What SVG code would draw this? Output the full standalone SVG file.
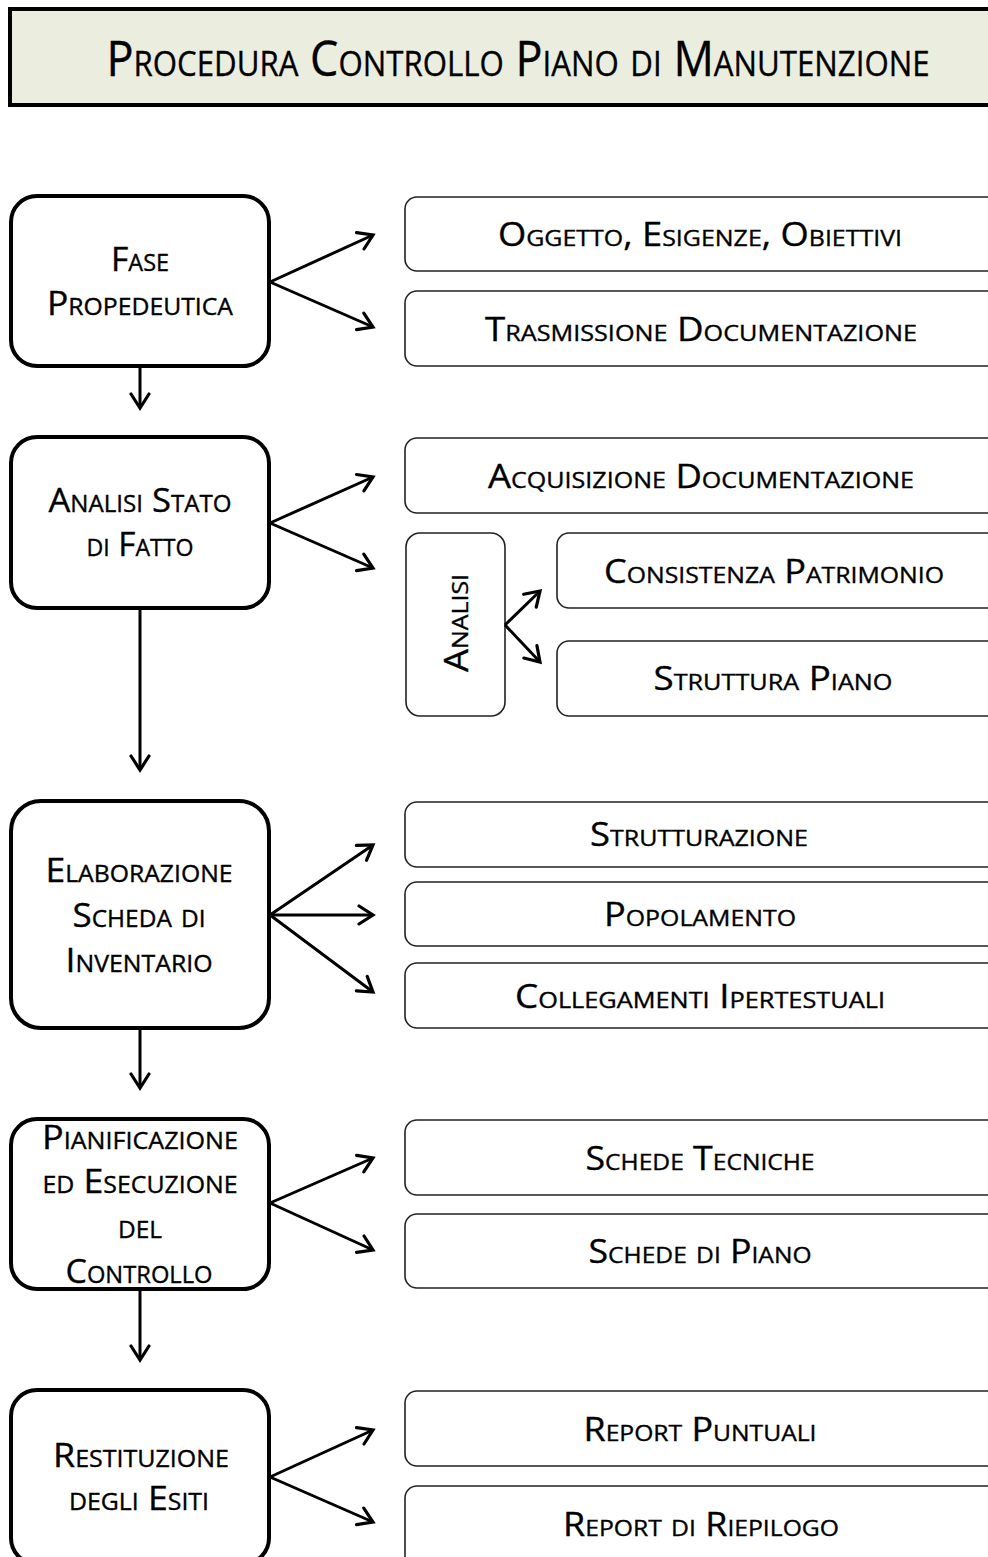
<svg xmlns="http://www.w3.org/2000/svg" width="988" height="1557" viewBox="0 0 988 1557">
  <style>
    text { font-family: "Open Sans", "Liberation Sans", sans-serif; font-variant: small-caps; fill: #000; stroke: #000; stroke-width: 0.35; text-anchor: middle; }
    .t-title { font-size: 49px; }
    .t-main { font-size: 33px; }
    .t-sub { font-size: 32px; }
    .phase { fill: #fff; stroke: #000; stroke-width: 4; }
    .task { fill: #fff; stroke: #222; stroke-width: 1.6; }
    .conn line { stroke: #000; stroke-width: 3; marker-end: url(#arrow); }
  </style>
  <defs>
    <marker id="arrow" viewBox="0 0 22 22" refX="18" refY="11" markerWidth="22" markerHeight="22" markerUnits="userSpaceOnUse" orient="auto">
      <path d="M4,2 L18,11 L4,20" fill="none" stroke="#000" stroke-width="3.2" stroke-linecap="round"/>
    </marker>
  </defs>

  <rect width="988" height="1557" fill="#fff"/>

  <!-- header -->
  <g id="title">
    <rect x="10" y="9" width="982" height="96" fill="#EBEEDF" stroke="#000" stroke-width="4"/>
    <text class="t-title" x="518" y="76" textLength="823" lengthAdjust="spacingAndGlyphs">Procedura Controllo Piano di Manutenzione</text>
  </g>

  <!-- phase 1 -->
  <g id="fase-propedeutica">
    <rect class="phase" x="11" y="196" width="258" height="170" rx="26"/>
    <text class="t-main" x="140" y="271" textLength="58" lengthAdjust="spacingAndGlyphs">Fase</text>
    <text class="t-main" x="140" y="315" textLength="186" lengthAdjust="spacingAndGlyphs">Propedeutica</text>
  </g>
  <g id="oggetto">
    <rect class="task" x="405" y="197" width="620" height="74" rx="12"/>
    <text class="t-sub" x="700" y="246" textLength="404" lengthAdjust="spacingAndGlyphs">Oggetto, Esigenze, Obiettivi</text>
  </g>
  <g id="trasmissione">
    <rect class="task" x="405" y="291" width="620" height="75" rx="12"/>
    <text class="t-sub" x="701" y="341" textLength="432" lengthAdjust="spacingAndGlyphs">Trasmissione Documentazione</text>
  </g>

  <!-- phase 2 -->
  <g id="analisi-stato">
    <rect class="phase" x="11" y="437" width="258" height="171" rx="26"/>
    <text class="t-main" x="140" y="512" textLength="183" lengthAdjust="spacingAndGlyphs">Analisi Stato</text>
    <text class="t-main" x="140" y="556" textLength="107" lengthAdjust="spacingAndGlyphs">di Fatto</text>
  </g>
  <g id="acquisizione">
    <rect class="task" x="405" y="438" width="620" height="75" rx="12"/>
    <text class="t-sub" x="701" y="488" textLength="426" lengthAdjust="spacingAndGlyphs">Acquisizione Documentazione</text>
  </g>
  <g id="analisi">
    <rect class="task" x="406" y="533" width="99" height="183" rx="14"/>
    <text class="t-sub" transform="translate(468,623) rotate(-90)" x="0" y="0" textLength="98" lengthAdjust="spacingAndGlyphs">Analisi</text>
  </g>
  <g id="consistenza">
    <rect class="task" x="557" y="533" width="470" height="75" rx="12"/>
    <text class="t-sub" x="774" y="583" textLength="340" lengthAdjust="spacingAndGlyphs">Consistenza Patrimonio</text>
  </g>
  <g id="struttura-piano">
    <rect class="task" x="557" y="641" width="470" height="75" rx="12"/>
    <text class="t-sub" x="773" y="690" textLength="239" lengthAdjust="spacingAndGlyphs">Struttura Piano</text>
  </g>

  <!-- phase 3 -->
  <g id="elaborazione">
    <rect class="phase" x="11" y="801" width="258" height="227" rx="30"/>
    <text class="t-main" x="139" y="882" textLength="187" lengthAdjust="spacingAndGlyphs">Elaborazione</text>
    <text class="t-main" x="139" y="927" textLength="133" lengthAdjust="spacingAndGlyphs">Scheda di</text>
    <text class="t-main" x="139" y="972" textLength="147" lengthAdjust="spacingAndGlyphs">Inventario</text>
  </g>
  <g id="strutturazione">
    <rect class="task" x="405" y="802" width="620" height="65" rx="12"/>
    <text class="t-sub" x="699" y="846" textLength="218" lengthAdjust="spacingAndGlyphs">Strutturazione</text>
  </g>
  <g id="popolamento">
    <rect class="task" x="405" y="882" width="620" height="64" rx="12"/>
    <text class="t-sub" x="700" y="926" textLength="192" lengthAdjust="spacingAndGlyphs">Popolamento</text>
  </g>
  <g id="collegamenti">
    <rect class="task" x="405" y="963" width="620" height="65" rx="12"/>
    <text class="t-sub" x="700" y="1008" textLength="370" lengthAdjust="spacingAndGlyphs">Collegamenti Ipertestuali</text>
  </g>

  <!-- phase 4 -->
  <g id="pianificazione">
    <rect class="phase" x="11" y="1119" width="258" height="170" rx="26"/>
    <text class="t-main" x="140" y="1149" textLength="196" lengthAdjust="spacingAndGlyphs">Pianificazione</text>
    <text class="t-main" x="140" y="1193" textLength="195" lengthAdjust="spacingAndGlyphs">ed Esecuzione</text>
    <text class="t-main" x="140" y="1238" textLength="44" lengthAdjust="spacingAndGlyphs">del</text>
    <text class="t-main" x="139" y="1283" textLength="147" lengthAdjust="spacingAndGlyphs">Controllo</text>
  </g>
  <g id="schede-tecniche">
    <rect class="task" x="405" y="1120" width="620" height="75" rx="12"/>
    <text class="t-sub" x="700" y="1170" textLength="229" lengthAdjust="spacingAndGlyphs">Schede Tecniche</text>
  </g>
  <g id="schede-piano">
    <rect class="task" x="405" y="1214" width="620" height="74" rx="12"/>
    <text class="t-sub" x="700" y="1263" textLength="223" lengthAdjust="spacingAndGlyphs">Schede di Piano</text>
  </g>

  <!-- phase 5 -->
  <g id="restituzione">
    <rect class="phase" x="11" y="1390" width="258" height="174" rx="26"/>
    <text class="t-main" x="141" y="1467" textLength="176" lengthAdjust="spacingAndGlyphs">Restituzione</text>
    <text class="t-main" x="139" y="1510" textLength="140" lengthAdjust="spacingAndGlyphs">degli Esiti</text>
  </g>
  <g id="report-puntuali">
    <rect class="task" x="405" y="1391" width="620" height="75" rx="12"/>
    <text class="t-sub" x="700" y="1441" textLength="233" lengthAdjust="spacingAndGlyphs">Report Puntuali</text>
  </g>
  <g id="report-riepilogo">
    <rect class="task" x="405" y="1486" width="620" height="90" rx="12"/>
    <text class="t-sub" x="701" y="1536" textLength="276" lengthAdjust="spacingAndGlyphs">Report di Riepilogo</text>
  </g>

  <!-- connectors -->
  <g id="connectors" class="conn">
    <line x1="140" y1="366" x2="140" y2="408"/>
    <line x1="140" y1="608" x2="140" y2="770"/>
    <line x1="140" y1="1028" x2="140" y2="1088"/>
    <line x1="140" y1="1289" x2="140" y2="1360"/>

    <line x1="270" y1="282" x2="373" y2="235"/>
    <line x1="270" y1="282" x2="373" y2="327"/>

    <line x1="270" y1="523" x2="373" y2="477"/>
    <line x1="270" y1="523" x2="373" y2="568"/>

    <line x1="270" y1="915" x2="373" y2="845"/>
    <line x1="270" y1="915" x2="373" y2="915"/>
    <line x1="270" y1="915" x2="373" y2="992"/>

    <line x1="270" y1="1203" x2="373" y2="1158"/>
    <line x1="270" y1="1203" x2="373" y2="1250"/>

    <line x1="270" y1="1477" x2="373" y2="1430"/>
    <line x1="270" y1="1477" x2="373" y2="1522"/>

    <line x1="505" y1="625" x2="540" y2="591"/>
    <line x1="505" y1="625" x2="540" y2="662"/>
  </g>
</svg>
